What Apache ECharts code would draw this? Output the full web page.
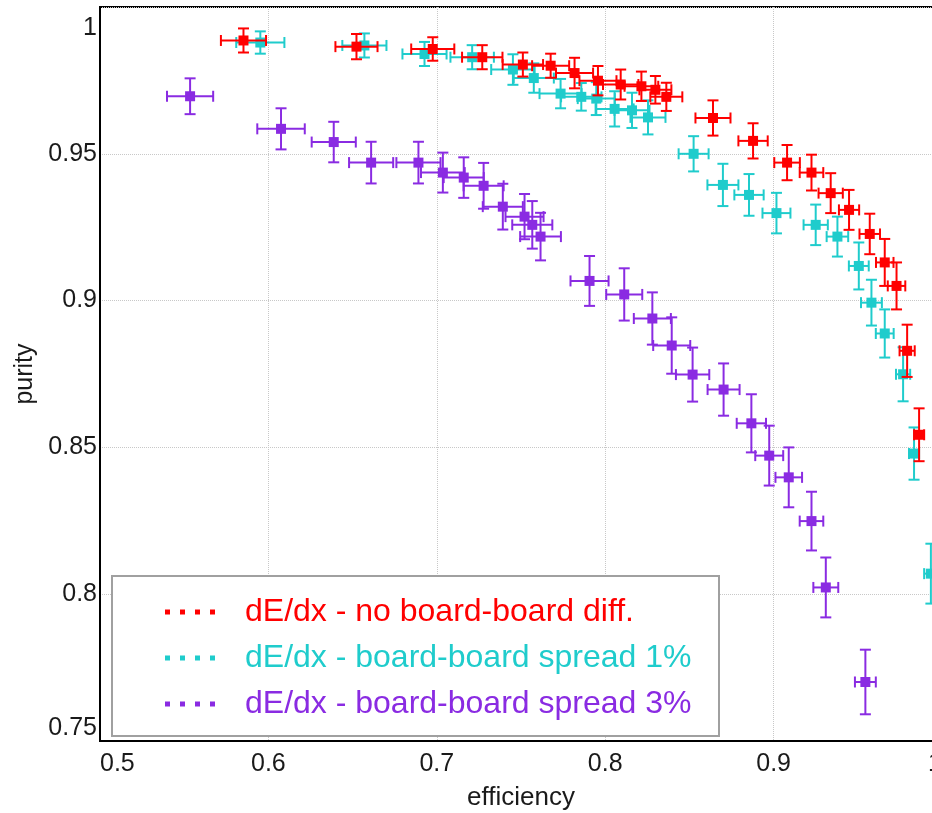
<!DOCTYPE html>
<html lang="en">
<head>
    <meta charset="UTF-8">
    <title>purity vs efficiency</title>
    <script src="https://cdn.jsdelivr.net/npm/echarts@6/dist/echarts.min.js"></script>
    <style>
        html, body { margin: 0; padding: 0; background: #fff; }
        #main { width: 932px; height: 813px; }
    </style>
</head>
<body>
<div id="main"></div>

<script type="text/javascript">
    // dE/dx - no board-board diff.
    var redX  = [0.5852, 0.6523, 0.6976, 0.7270, 0.7511, 0.7676, 0.7818, 0.7957, 0.8092, 0.8215, 0.8298, 0.8363, 0.8640, 0.8878, 0.9080, 0.9225, 0.9339, 0.9448, 0.9571, 0.9660, 0.9730, 0.9793, 0.9864];
    var redY  = [0.9886, 0.9865, 0.9857, 0.9829, 0.9804, 0.9800, 0.9775, 0.9749, 0.9736, 0.9730, 0.9718, 0.9694, 0.9622, 0.9544, 0.9470, 0.9436, 0.9366, 0.9309, 0.9227, 0.9130, 0.9050, 0.8829, 0.8543];
    var redEx = [0.0134, 0.0125, 0.0128, 0.0120, 0.0120, 0.0110, 0.0110, 0.0110, 0.0105, 0.0100, 0.0095, 0.0095, 0.0104, 0.0087, 0.0076, 0.0070, 0.0072, 0.0060, 0.0061, 0.0052, 0.0052, 0.0045, 0.0030];
    var redEy = [0.0041, 0.0043, 0.0040, 0.0041, 0.0041, 0.0041, 0.0052, 0.0050, 0.0051, 0.0050, 0.0047, 0.0048, 0.0060, 0.0060, 0.0060, 0.0061, 0.0068, 0.0068, 0.0069, 0.0080, 0.0080, 0.0089, 0.0090];

    // dE/dx - board-board spread 1%
    var cyanX  = [0.5952, 0.6570, 0.6927, 0.7210, 0.7452, 0.7576, 0.7735, 0.7858, 0.7947, 0.8056, 0.8159, 0.8254, 0.8525, 0.8699, 0.8854, 0.9017, 0.9250, 0.9379, 0.9506, 0.9581, 0.9660, 0.9769, 0.9834, 0.9934];
    var cyanY  = [0.9879, 0.9869, 0.9840, 0.9829, 0.9787, 0.9758, 0.9705, 0.9694, 0.9688, 0.9653, 0.9648, 0.9624, 0.9500, 0.9394, 0.9360, 0.9298, 0.9258, 0.9218, 0.9118, 0.8993, 0.8888, 0.8749, 0.8479, 0.8070];
    var cyanEx = [0.0143, 0.0131, 0.0131, 0.0129, 0.0129, 0.0119, 0.0125, 0.0120, 0.0110, 0.0113, 0.0104, 0.0104, 0.0089, 0.0092, 0.0087, 0.0083, 0.0072, 0.0064, 0.0059, 0.0062, 0.0053, 0.0042, 0.0030, 0.0040];
    var cyanEy = [0.0038, 0.0041, 0.0041, 0.0041, 0.0052, 0.0050, 0.0050, 0.0047, 0.0056, 0.0060, 0.0060, 0.0058, 0.0060, 0.0072, 0.0071, 0.0069, 0.0069, 0.0068, 0.0080, 0.0078, 0.0082, 0.0092, 0.0089, 0.0102];

    // dE/dx - board-board spread 3%
    var purpleX  = [0.5535, 0.6075, 0.6388, 0.6610, 0.6891, 0.7036, 0.7160, 0.7278, 0.7392, 0.7521, 0.7567, 0.7616, 0.7907, 0.8113, 0.8280, 0.8395, 0.8519, 0.8703, 0.8868, 0.8974, 0.9090, 0.9225, 0.9310, 0.9545];
    var purpleY  = [0.9696, 0.9585, 0.9540, 0.9470, 0.9470, 0.9436, 0.9419, 0.9391, 0.9320, 0.9286, 0.9258, 0.9218, 0.9067, 0.9021, 0.8939, 0.8847, 0.8748, 0.8697, 0.8582, 0.8472, 0.8398, 0.8249, 0.8023, 0.7701];
    var purpleEx = [0.0137, 0.0141, 0.0131, 0.0131, 0.0131, 0.0130, 0.0119, 0.0119, 0.0119, 0.0113, 0.0119, 0.0121, 0.0113, 0.0107, 0.0110, 0.0110, 0.0099, 0.0095, 0.0087, 0.0083, 0.0079, 0.0070, 0.0074, 0.0062];
    var purpleEy = [0.0061, 0.0070, 0.0069, 0.0071, 0.0071, 0.0068, 0.0069, 0.0078, 0.0078, 0.0077, 0.0081, 0.0081, 0.0085, 0.0089, 0.0089, 0.0096, 0.0092, 0.0089, 0.0099, 0.0102, 0.0102, 0.0100, 0.0102, 0.0110];

    var names = ['dE/dx - no board-board diff.', 'dE/dx - board-board spread 1%', 'dE/dx - board-board spread 3%'];
    var colors = ['#ff0000', '#1fcccc', '#8a2be2'];

    var FONT = "'Liberation Sans', Arial, sans-serif";

    function rows(xs, ys, exs, eys) {
        return xs.map(function (x, i) {
            return [x, ys[i], exs[i], eys[i]];
        });
    }

    // error bars with caps + square marker
    function errorBars(params, api) {
        var x = api.value(0), y = api.value(1), ex = api.value(2), ey = api.value(3);
        var c = api.coord([x, y]);
        var l = api.coord([x - ex, y])[0];
        var r = api.coord([x + ex, y])[0];
        var t = api.coord([x, y + ey])[1];
        var b = api.coord([x, y - ey])[1];
        var color = api.visual('color');
        var cap = 5.5, m = 5;
        var st = { stroke: color, lineWidth: 2 };
        return {
            type: 'group',
            children: [
                { type: 'line', shape: { x1: l, y1: c[1], x2: r, y2: c[1] }, style: st },
                { type: 'line', shape: { x1: l, y1: c[1] - cap, x2: l, y2: c[1] + cap }, style: st },
                { type: 'line', shape: { x1: r, y1: c[1] - cap, x2: r, y2: c[1] + cap }, style: st },
                { type: 'line', shape: { x1: c[0], y1: t, x2: c[0], y2: b }, style: st },
                { type: 'line', shape: { x1: c[0] - cap, y1: t, x2: c[0] + cap, y2: t }, style: st },
                { type: 'line', shape: { x1: c[0] - cap, y1: b, x2: c[0] + cap, y2: b }, style: st },
                { type: 'rect', shape: { x: c[0] - m, y: c[1] - m, width: 2 * m, height: 2 * m }, style: { fill: color } }
            ]
        };
    }

    function makeSeries(name, color, data) {
        return {
            name: name,
            type: 'custom',
            renderItem: errorBars,
            itemStyle: { color: color },
            encode: { x: 0, y: 1 },
            data: data,
            z: 2
        };
    }

    var chartDom = document.getElementById('main');
    var myChart = echarts.init(chartDom);
    var option;

    option = {
        animation: false,
        backgroundColor: '#fff',
        grid: {
            left: 100,
            top: 7,
            width: 842,
            height: 734,
            outerBoundsMode: 'none',
            containLabel: false,
            show: true,
            borderColor: '#000',
            borderWidth: 2
        },
        xAxis: {
            type: 'value',
            min: 0.5,
            max: 1.0,
            interval: 0.1,
            name: 'efficiency',
            nameLocation: 'middle',
            nameGap: 44,
            nameTextStyle: { fontSize: 26, color: '#1a1a1a', fontFamily: FONT },
            axisLine: { show: true, lineStyle: { color: '#000', width: 2 } },
            axisTick: { show: false },
            axisLabel: {
                fontSize: 25,
                color: '#1a1a1a',
                fontFamily: FONT,
                margin: 11,
                alignMinLabel: 'left',
                alignMaxLabel: 'right'
            },
            splitLine: { show: true, lineStyle: { color: '#c8c8c8', type: 'dotted', width: 1 } }
        },
        yAxis: {
            type: 'value',
            min: 0.75,
            max: 1.0,
            interval: 0.05,
            name: 'purity',
            nameLocation: 'middle',
            nameGap: 61,
            nameTextStyle: { fontSize: 25, color: '#1a1a1a', fontFamily: FONT },
            axisLine: { show: true, lineStyle: { color: '#000', width: 2 } },
            axisTick: { show: false },
            axisLabel: {
                fontSize: 25,
                color: '#1a1a1a',
                fontFamily: FONT,
                margin: 3,
                verticalAlignMinLabel: 'bottom',
                verticalAlignMaxLabel: 'top',
                formatter: function (v) {
                    return v === 1 ? '{top|1}' : String(v);
                },
                rich: {
                    top: { fontSize: 25, color: '#1a1a1a', fontFamily: FONT, padding: [9, 0, 0, 0] }
                }
            },
            splitLine: { show: true, lineStyle: { color: '#c8c8c8', type: 'dotted', width: 1 } }
        },
        graphic: [
            {
                type: 'rect',
                left: 111,
                top: 575,
                shape: { width: 607, height: 160 },
                style: { fill: '#fff', stroke: '#a0a0a0', lineWidth: 2 },
                z: 5
            }
        ],
        legend: {
            orient: 'vertical',
            left: 160,
            top: 591,
            itemWidth: 50,
            itemHeight: 5,
            itemGap: 14,
            selectedMode: false,
            icon: 'path://M0,0h1v1h-1z M3,0h1v1h-1z M6,0h1v1h-1z M9,0h1v1h-1z',
            textStyle: { fontSize: 32, lineHeight: 31, fontFamily: FONT, padding: [0, 0, 0, 25] },
            data: names.map(function (n, i) {
                return { name: n, textStyle: { color: colors[i] } };
            }),
            z: 10
        },
        series: [
            makeSeries(names[2], colors[2], rows(purpleX, purpleY, purpleEx, purpleEy)),
            makeSeries(names[1], colors[1], rows(cyanX, cyanY, cyanEx, cyanEy)),
            makeSeries(names[0], colors[0], rows(redX, redY, redEx, redEy))
        ]
    };

    option && myChart.setOption(option);
</script>
</body>
</html>
